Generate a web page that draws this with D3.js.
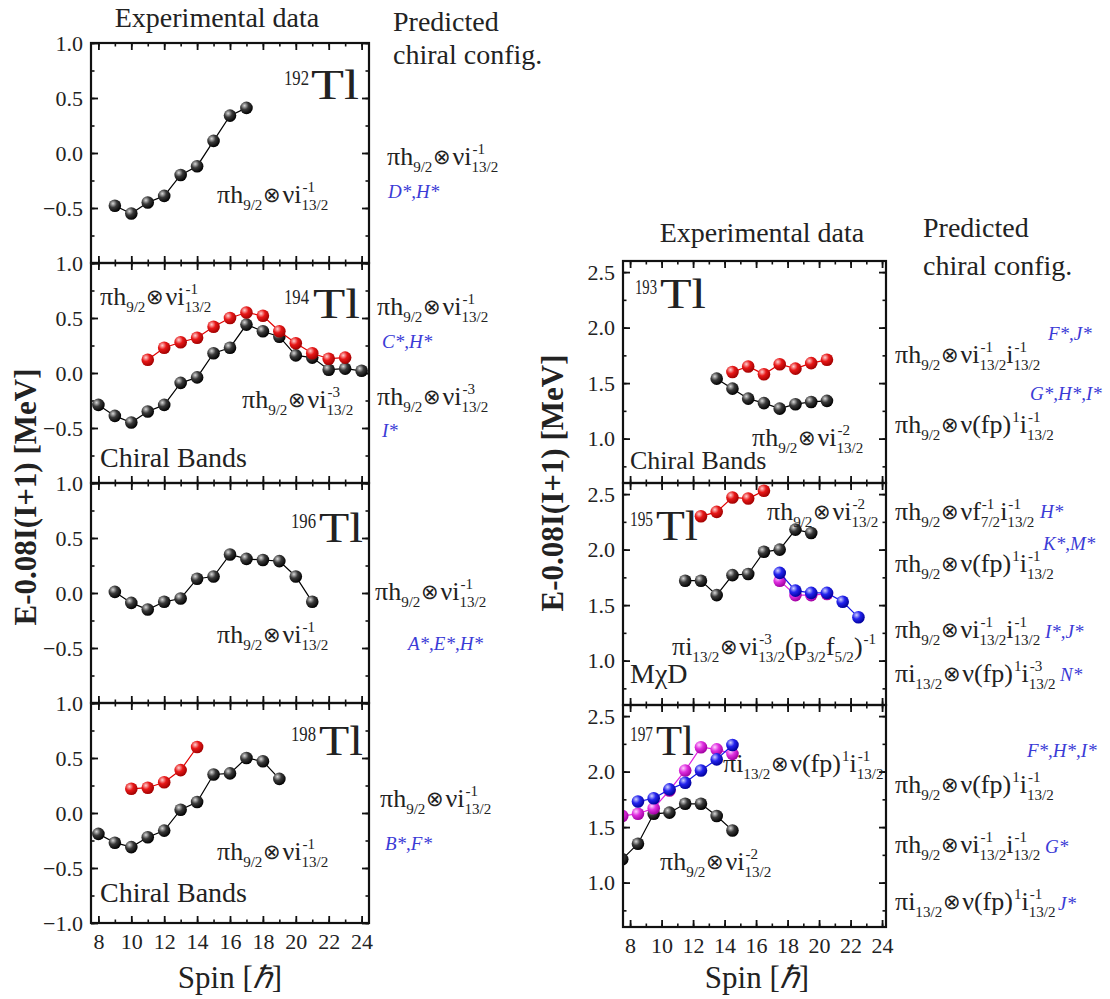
<!DOCTYPE html>
<html>
<head>
<meta charset="utf-8">
<script src="https://cdn.jsdelivr.net/npm/d3@7"></script>
<style>
  body { margin: 0; background: #fff; }
  svg text { font-family: 'Liberation Serif', 'Times New Roman', serif; fill: #222; }
</style>
</head>
<body>
<div id="chart"></div>
<script>
// ---- data (spin, E - 0.08 I(I+1)) ----
const tl192Black = [[9,-0.48],[10,-0.55],[11,-0.45],[12,-0.39],[13,-0.20],[14,-0.12],[15,0.11],[16,0.34],[17,0.41]];
const tl194Black = [[8,-0.29],[9,-0.39],[10,-0.45],[11,-0.35],[12,-0.29],[13,-0.09],[14,-0.04],[15,0.18],[16,0.23],[17,0.44],[18,0.38],[19,0.33],[20,0.16],[21,0.14],[22,0.03],[23,0.04],[24,0.02]];
const tl194Red = [[11,0.12],[12,0.23],[13,0.28],[14,0.32],[15,0.42],[16,0.50],[17,0.55],[18,0.52],[19,0.38],[20,0.27],[21,0.18],[22,0.13],[23,0.14]];
const tl196Black = [[9,0.01],[10,-0.09],[11,-0.15],[12,-0.08],[13,-0.05],[14,0.13],[15,0.15],[16,0.35],[17,0.31],[18,0.30],[19,0.29],[20,0.15],[21,-0.08]];
const tl198Black = [[8,-0.19],[9,-0.27],[10,-0.31],[11,-0.22],[12,-0.16],[13,0.03],[14,0.10],[15,0.35],[16,0.36],[17,0.50],[18,0.47],[19,0.31]];
const tl198Red = [[10,0.22],[11,0.23],[12,0.28],[13,0.39],[14,0.60]];

const tl193Black = [[13.5,1.54],[14.5,1.45],[15.5,1.36],[16.5,1.32],[17.5,1.27],[18.5,1.31],[19.5,1.33],[20.5,1.34]];
const tl193Red = [[14.5,1.60],[15.5,1.65],[16.5,1.58],[17.5,1.67],[18.5,1.63],[19.5,1.68],[20.5,1.71]];
const tl195Black = [[11.5,1.72],[12.5,1.72],[13.5,1.59],[14.5,1.77],[15.5,1.78],[16.5,1.98],[17.5,2.00],[18.5,2.18],[19.5,2.15]];
const tl195Red = [[12.5,2.30],[13.5,2.34],[14.5,2.47],[15.5,2.46],[16.5,2.53]];
const tl195Magenta = [[17.5,1.72],[18.5,1.59],[19.5,1.59],[20.5,1.60]];
const tl195Blue = [[17.5,1.79],[18.5,1.63],[19.5,1.61],[20.5,1.61],[21.5,1.53],[22.5,1.39]];
const tl197Black = [[7.5,1.21],[8.5,1.35],[9.5,1.62],[10.5,1.63],[11.5,1.71],[12.5,1.71],[13.5,1.60],[14.5,1.47]];
const tl197Magenta = [[7.5,1.60],[8.5,1.62],[9.5,1.67],[10.5,1.83],[11.5,2.01],[12.5,2.22],[13.5,2.20],[14.5,2.16]];
const tl197Blue = [[8.5,1.73],[9.5,1.76],[10.5,1.84],[11.5,1.90],[12.5,2.01],[13.5,2.11],[14.5,2.24]];

const xTicks = [8, 10, 12, 14, 16, 18, 20, 22, 24];
const yTicksLeft = [1.0, 0.5, 0.0, -0.5];
const yTicksLeftBottom = [1.0, 0.5, 0.0, -0.5, -1.0];
const yTicksRight = [2.5, 2.0, 1.5, 1.0];

const colors = {black: "#000", red: "#e00000", blue: "#1515e6", magenta: "#e020e0"};

// panels: column geometry + series
const leftCol = {x0: 91, x1: 369, domain: [7.55, 24.45]};
const rightCol = {x0: 623, x1: 886, domain: [7.55, 24.25]};

const panels = [
  {col: leftCol, top: 43, h: 220, y: [-1, 1], ticks: yTicksLeft, series: [["black", tl192Black]]},
  {col: leftCol, top: 263, h: 220, y: [-1, 1], ticks: yTicksLeft, series: [["black", tl194Black], ["red", tl194Red]]},
  {col: leftCol, top: 483, h: 220, y: [-1, 1], ticks: yTicksLeft, series: [["black", tl196Black]]},
  {col: leftCol, top: 703, h: 220, y: [-1, 1], ticks: yTicksLeftBottom, bottom: true, series: [["black", tl198Black], ["red", tl198Red]]},
  {col: rightCol, top: 261, h: 222, y: [0.6, 2.6], ticks: yTicksRight, series: [["black", tl193Black], ["red", tl193Red]]},
  {col: rightCol, top: 483, h: 222, y: [0.6, 2.6], ticks: yTicksRight, series: [["black", tl195Black], ["red", tl195Red], ["magenta", tl195Magenta], ["blue", tl195Blue]]},
  {col: rightCol, top: 705, h: 222, y: [0.6, 2.6], ticks: yTicksRight, bottom: true, series: [["black", tl197Black], ["magenta", tl197Magenta], ["blue", tl197Blue]]}
];

const svg = d3.select("#chart").append("svg")
  .attr("width", 1110)
  .attr("height", 999);

// ball gradients
const defs = svg.append("defs");
const ballStops = {
  black: ["#d8d8d8", "#3a3a3a", "#000"],
  red: ["#ffd0d0", "#e81818", "#a00000"],
  blue: ["#d0d0ff", "#2424ee", "#00009a"],
  magenta: ["#ffd0ff", "#e030e0", "#a000a0"]
};
Object.keys(ballStops).forEach(k => {
  const g = defs.append("radialGradient").attr("id", "ball-" + k)
    .attr("cx", "35%").attr("cy", "32%").attr("r", "70%");
  g.append("stop").attr("offset", "0%").attr("stop-color", ballStops[k][0]);
  g.append("stop").attr("offset", "45%").attr("stop-color", ballStops[k][1]);
  g.append("stop").attr("offset", "100%").attr("stop-color", ballStops[k][2]);
});

panels.forEach((p, i) => {
  const x = d3.scaleLinear().domain(p.col.domain).range([p.col.x0, p.col.x1]);
  const y = d3.scaleLinear().domain(p.y).range([p.top + p.h, p.top]);
  const g = svg.append("g");

  defs.append("clipPath").attr("id", "clip-" + i)
    .append("rect").attr("x", p.col.x0).attr("y", p.top)
    .attr("width", p.col.x1 - p.col.x0).attr("height", p.h);

  const minorX = d3.range(8, 25, 1);
  const step = 0.25;
  const minorY = d3.range(Math.ceil(p.y[0] / step) * step, p.y[1] + 1e-9, step);

  // ticks on all four sides, pointing inward
  const sides = [
    [d3.axisBottom(x), p.top + p.h, minorX, xTicks, "x"],
    [d3.axisTop(x), p.top, minorX, xTicks, "x"],
    [d3.axisLeft(y), p.col.x0, minorY, p.ticks, "y"],
    [d3.axisRight(y), p.col.x1, minorY, p.ticks, "y"]
  ];
  sides.forEach(([ax, pos, minor, major, dim]) => {
    const tr = dim === "x" ? `translate(0,${pos})` : `translate(${pos},0)`;
    g.append("g").attr("transform", tr)
      .call(ax.tickValues(minor).tickSize(-3.5).tickSizeOuter(0).tickFormat(""))
      .call(s => s.select(".domain").remove())
      .selectAll("line").attr("stroke", "#111").attr("stroke-width", 1.6);
    const majorVals = dim === "y" ? d3.range(Math.ceil(p.y[0] / 0.5) * 0.5, p.y[1] + 1e-9, 0.5) : major;
    g.append("g").attr("transform", tr)
      .call(ax.tickValues(majorVals).tickSize(-7).tickSizeOuter(0).tickFormat(""))
      .call(s => s.select(".domain").remove())
      .selectAll("line").attr("stroke", "#111").attr("stroke-width", 1.8);
  });

  // tick labels
  const yAx = g.append("g").attr("transform", `translate(${p.col.x0},0)`)
    .call(d3.axisLeft(y).tickValues(p.ticks).tickSize(0).tickPadding(8).tickFormat(d3.format(".1f")));
  yAx.select(".domain").remove();
  yAx.selectAll("text").style("font-size", "22px").style("font-family", "'Liberation Serif',serif").attr("fill", "#222");

  if (p.bottom) {
    const xAx = g.append("g").attr("transform", `translate(0,${p.top + p.h})`)
      .call(d3.axisBottom(x).tickValues(xTicks).tickSize(0).tickPadding(10).tickFormat(d3.format("d")));
    xAx.select(".domain").remove();
    xAx.selectAll("text").style("font-size", "22px").style("font-family", "'Liberation Serif',serif").attr("fill", "#222");
  }

  // series
  const line = d3.line().x(d => x(d[0])).y(d => y(d[1]));
  const plot = g.append("g").attr("clip-path", `url(#clip-${i})`);
  p.series.forEach(([c, data]) => {
    plot.append("path").datum(data)
      .attr("d", line).attr("fill", "none")
      .attr("stroke", colors[c]).attr("stroke-width", 1.2);
    plot.selectAll(null).data(data).enter().append("circle")
      .attr("cx", d => x(d[0])).attr("cy", d => y(d[1]))
      .attr("r", 6.3).attr("fill", `url(#ball-${c})`);
  });

  // frame
  g.append("rect").attr("x", p.col.x0).attr("y", p.top)
    .attr("width", p.col.x1 - p.col.x0).attr("height", p.h)
    .attr("fill", "none").attr("stroke", "#111").attr("stroke-width", 2.2);
});

// ---- text helpers ----
function parseFormula(str) {
  const parts = str.split(/(_\{[^}]*\}|\^\{[^}]*\}|⊗)/).filter(s => s.length);
  const segs = [];
  parts.forEach(s => {
    if (s[0] === "_" && s[1] === "{") {
      if (!segs.length) segs.push({base: ""});
      segs[segs.length - 1].sub = s.slice(2, -1);
    } else if (s[0] === "^" && s[1] === "{") {
      if (!segs.length) segs.push({base: ""});
      segs[segs.length - 1].sup = s.slice(2, -1);
    } else {
      segs.push({base: s, otimes: s === "⊗"});
    }
  });
  return segs;
}

function formula(str, x, y, size) {
  size = size || 26;
  const small = size * 0.58;
  const g = svg.append("g");
  let cx = x;
  parseFormula(str).forEach(s => {
    if (s.otimes) {
      const t = g.append("text").attr("x", cx + 1).attr("y", y - 1)
        .style("font-size", (size * 0.82) + "px")
        .style("font-family", "'DejaVu Sans'").style("font-weight", 200)
        .text("⊗");
      cx += t.node().getComputedTextLength() + 2;
      return;
    }
    if (s.base) {
      const t = g.append("text").attr("x", cx).attr("y", y).style("font-size", size + "px").text(s.base);
      cx += t.node().getComputedTextLength();
    }
    let w = 0;
    if (s.sub) {
      const t = g.append("text").attr("x", cx).attr("y", y + size * 0.28).style("font-size", small + "px").text(s.sub);
      w = Math.max(w, t.node().getComputedTextLength());
    }
    if (s.sup) {
      const t = g.append("text").attr("x", cx + 1).attr("y", y - size * 0.42).style("font-size", small + "px").text(s.sup);
      w = Math.max(w, t.node().getComputedTextLength() + 1);
    }
    cx += w;
  });
}

function plain(str, x, y, size, anchor) {
  svg.append("text").attr("x", x).attr("y", y)
    .attr("text-anchor", anchor || "start")
    .style("font-size", size + "px").text(str);
}

function blue(str, x, y) {
  svg.append("text").attr("x", x).attr("y", y)
    .style("font-size", "19px").style("font-style", "italic")
    .style("fill", "#3b3bd6").text(str);
}

function isotope(mass, xs, xt, y, supW, tlW) {
  svg.append("text").attr("x", xs).attr("y", y - 14).style("font-size", "21px")
    .attr("textLength", supW).attr("lengthAdjust", "spacingAndGlyphs").text(mass);
  svg.append("text").attr("x", xt).attr("y", y).style("font-size", "42px")
    .attr("textLength", tlW).attr("lengthAdjust", "spacingAndGlyphs").text("Tl");
}

// headings
plain("Experimental data", 217, 27, 28, "middle");
plain("Predicted", 393, 31, 28);
plain("chiral config.", 393, 64, 28);
plain("Experimental data", 762, 242, 28, "middle");
plain("Predicted", 923, 237, 28);
plain("chiral config.", 923, 275, 28);

// axis titles
svg.append("text").attr("transform", "translate(36,497) rotate(-90)")
  .attr("text-anchor", "middle").style("font-size", "31px").style("font-weight", "bold")
  .text("E-0.08I(I+1) [MeV]");
svg.append("text").attr("transform", "translate(563,483) rotate(-90)")
  .attr("text-anchor", "middle").style("font-size", "31px").style("font-weight", "bold")
  .text("E-0.08I(I+1) [MeV]");
[230, 757].forEach(cx => {
  const t = svg.append("text").attr("x", cx).attr("y", 988).attr("text-anchor", "middle").style("font-size", "31px");
  t.append("tspan").text("Spin [");
  t.append("tspan").style("font-style", "italic").text("ℏ");
  t.append("tspan").text("]");
});

// isotope labels
isotope("192", 284, 311, 99, 25, 48);
isotope("194", 284, 313, 318, 25, 47);
isotope("196", 291, 319, 542, 25, 44);
isotope("198", 291, 319, 755, 25, 44);
isotope("193", 635, 660, 308, 22, 46);
isotope("195", 630, 656, 540, 23, 42);
isotope("197", 630, 656, 755, 23, 38);

const h1 = "πh_{9/2}⊗νi^{-1}_{13/2}";

// left panels
formula(h1, 217, 203);
formula(h1, 100, 305);
formula("πh_{9/2}⊗νi^{-3}_{13/2}", 242, 408);
plain("Chiral Bands", 100, 467, 28);
formula(h1, 217, 643);
formula(h1, 217, 860);
plain("Chiral Bands", 100, 902, 28);

// left predicted
formula(h1, 387, 165);
blue("D*,H*", 388, 198);
formula(h1, 377, 315);
blue("C*,H*", 382, 348);
formula("πh_{9/2}⊗νi^{-3}_{13/2}", 377, 405);
blue("I*", 382, 437);
formula(h1, 375, 600);
blue("A*,E*,H*", 408, 650);
formula(h1, 380, 807);
blue("B*,F*", 385, 850);

// right panels
formula("πh_{9/2}⊗νi^{-2}_{13/2}", 752, 446);
plain("Chiral Bands", 630, 469, 26);
formula("πh_{9/2}⊗νi^{-2}_{13/2}", 767, 520);
formula("πi_{13/2}⊗νi^{-3}_{13/2}(p_{3/2}f_{5/2})^{-1}", 672, 655);
plain("MχD", 630, 683, 28);
formula("πi_{13/2}⊗ν(fp)^{1}i^{-1}_{13/2}", 723, 772);
formula("πh_{9/2}⊗νi^{-2}_{13/2}", 660, 870);

// right predicted
formula("πh_{9/2}⊗νi^{-1}_{13/2}i^{-1}_{13/2}", 895, 363);
blue("F*,J*", 1048, 340);
formula("πh_{9/2}⊗ν(fp)^{1}i^{-1}_{13/2}", 895, 433);
blue("G*,H*,I*", 1030, 400);
formula("πh_{9/2}⊗νf^{-1}_{7/2}i^{-1}_{13/2}", 895, 520);
blue("H*", 1040, 518);
formula("πh_{9/2}⊗ν(fp)^{1}i^{-1}_{13/2}", 895, 572);
blue("K*,M*", 1043, 550);
formula("πh_{9/2}⊗νi^{-1}_{13/2}i^{-1}_{13/2}", 895, 638);
blue("I*,J*", 1045, 638);
formula("πi_{13/2}⊗ν(fp)^{1}i^{-3}_{13/2}", 895, 682);
blue("N*", 1060, 681);
blue("F*,H*,I*", 1027, 757);
formula("πh_{9/2}⊗ν(fp)^{1}i^{-1}_{13/2}", 895, 793);
formula("πh_{9/2}⊗νi^{-1}_{13/2}i^{-1}_{13/2}", 895, 853);
blue("G*", 1045, 853);
formula("πi_{13/2}⊗ν(fp)^{1}i^{-1}_{13/2}", 895, 910);
blue("J*", 1058, 910);
</script>
</body>
</html>
